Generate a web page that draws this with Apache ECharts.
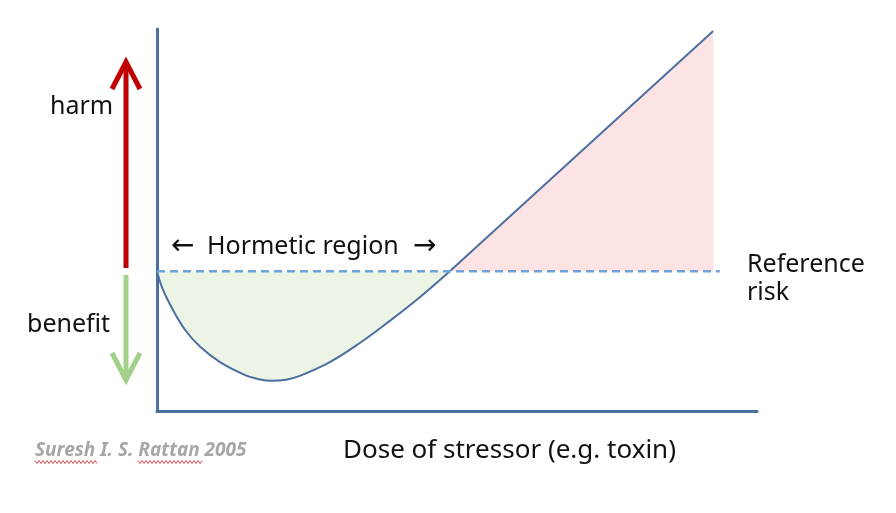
<!DOCTYPE html>
<html><head><meta charset="utf-8">
<script src="https://cdn.jsdelivr.net/npm/echarts@6/dist/echarts.min.js"></script>
<style>html,body{margin:0;padding:0;background:#fff}#c{width:896px;height:513px}</style>
</head><body><div id="c"></div>
<script>
// Dose (x) and risk (y) in arbitrary units
const curveX = [0, 0.08, 0.22, 0.47, 0.72, 1.05, 1.47, 1.7, 1.92, 2.15, 2.38, 2.88, 3.38, 3.88, 4.38, 4.88];
const curveY = [3.66, 3.25, 2.78, 2.12, 1.68, 1.28, 0.94, 0.83, 0.79, 0.82, 0.92, 1.28, 1.78, 2.36, 2.98, 3.66];
const toxicX = [4.88, 9.27];
const toxicY = [3.66, 9.95];
const referenceRisk = 3.66;
const referenceX = [0, 9.38];

const FONT = '"Noto Sans"';
const pts = (xs, ys) => xs.map((x, i) => [x, ys[i]]);
const chart = echarts.init(document.getElementById('c'));
const axisCol = '#4a71a0';
function squiggle(x0, x1, y) {
  const p = [];
  for (let x = x0, k = 0; x <= x1; x += 2, k++) p.push([x, y + (k % 2 ? 1.5 : -1.5)]);
  return {type: 'polyline', shape: {points: p}, style: {stroke: '#e04848', lineWidth: 1, fill: null}};
}
chart.setOption({
  animation: false,
  grid: {left: 157, right: 139, top: 29, bottom: 102},
  xAxis: {type: 'value', min: 0, max: 10, axisLine: {lineStyle: {color: axisCol, width: 3}}, axisTick: {show: false}, axisLabel: {show: false}, splitLine: {show: false}},
  yAxis: {type: 'value', min: 0, max: 10, axisLine: {show: true, lineStyle: {color: axisCol, width: 3}}, axisTick: {show: false}, axisLabel: {show: false}, splitLine: {show: false}},
  series: [
    {type: 'line', data: pts(curveX, curveY), smooth: 0.4, symbol: 'none', lineStyle: {color: '#4a6fa0', width: 2}, areaStyle: {color: '#ecf4e6', opacity: 1, origin: referenceRisk}, z: 3},
    {type: 'line', data: pts(toxicX, toxicY), symbol: 'none', lineStyle: {color: '#4a6fa0', width: 2}, areaStyle: {color: '#fde3e3', opacity: 1, origin: referenceRisk}, z: 3},
    {type: 'line', data: referenceX.map(x => [x, referenceRisk]), symbol: 'none', lineStyle: {color: '#6fa2d8', width: 2.5, type: [8, 5]}, z: 4}
  ],
  graphic: [
    {type: 'line', shape: {x1: 126, y1: 268, x2: 126, y2: 64}, style: {stroke: '#c00000', lineWidth: 5}},
    {type: 'polyline', shape: {points: [[112, 89], [126, 62], [140, 89]]}, style: {stroke: '#c00000', lineWidth: 5, fill: null, lineJoin: 'miter'}},
    {type: 'line', shape: {x1: 126, y1: 275, x2: 126, y2: 378}, style: {stroke: '#a3d08a', lineWidth: 5}},
    {type: 'polyline', shape: {points: [[112, 353], [126, 380], [140, 353]]}, style: {stroke: '#a3d08a', lineWidth: 5, fill: null, lineJoin: 'miter'}},
    {type: 'text', x: 50, y: 107, style: {text: 'harm', font: '25px ' + FONT, fill: '#111', verticalAlign: 'middle'}},
    {type: 'text', x: 27, y: 325, style: {text: 'benefit', font: '25px ' + FONT, fill: '#111', verticalAlign: 'middle'}},
    {type: 'text', x: 171, y: 247, style: {text: '←', font: '28px "DejaVu Sans"', fill: '#111', verticalAlign: 'middle'}},
    {type: 'text', x: 207, y: 247, style: {text: 'Hormetic region', font: '25px ' + FONT, fill: '#111', verticalAlign: 'middle'}},
    {type: 'text', x: 413, y: 247, style: {text: '→', font: '28px "DejaVu Sans"', fill: '#111', verticalAlign: 'middle'}},
    {type: 'text', x: 270, y: 324, style: {text: 'beneficial\ndose', font: '25px ' + FONT, fill: '#111', align: 'center', verticalAlign: 'middle', lineHeight: 26}},
    {type: 'text', x: 638, y: 200, style: {text: 'Toxic\ndose', font: '25px ' + FONT, fill: '#111', align: 'center', verticalAlign: 'middle', lineHeight: 33}},
    {type: 'text', x: 747, y: 279, style: {text: 'Reference\nrisk', font: '25px ' + FONT, fill: '#111', align: 'left', verticalAlign: 'middle', lineHeight: 28}},
    {type: 'text', x: 343, y: 451, style: {text: 'Dose of stressor (e.g. toxin)', font: '26px ' + FONT, fill: '#111', verticalAlign: 'middle'}},
    {type: 'text', x: 35, y: 451, style: {text: 'Suresh I. S. Rattan 2005', font: 'italic bold 19px ' + FONT, fill: '#a6a6a6', verticalAlign: 'middle'}},
    squiggle(35, 98, 462),
    squiggle(138, 202, 462)
  ]
});
</script></body></html>
